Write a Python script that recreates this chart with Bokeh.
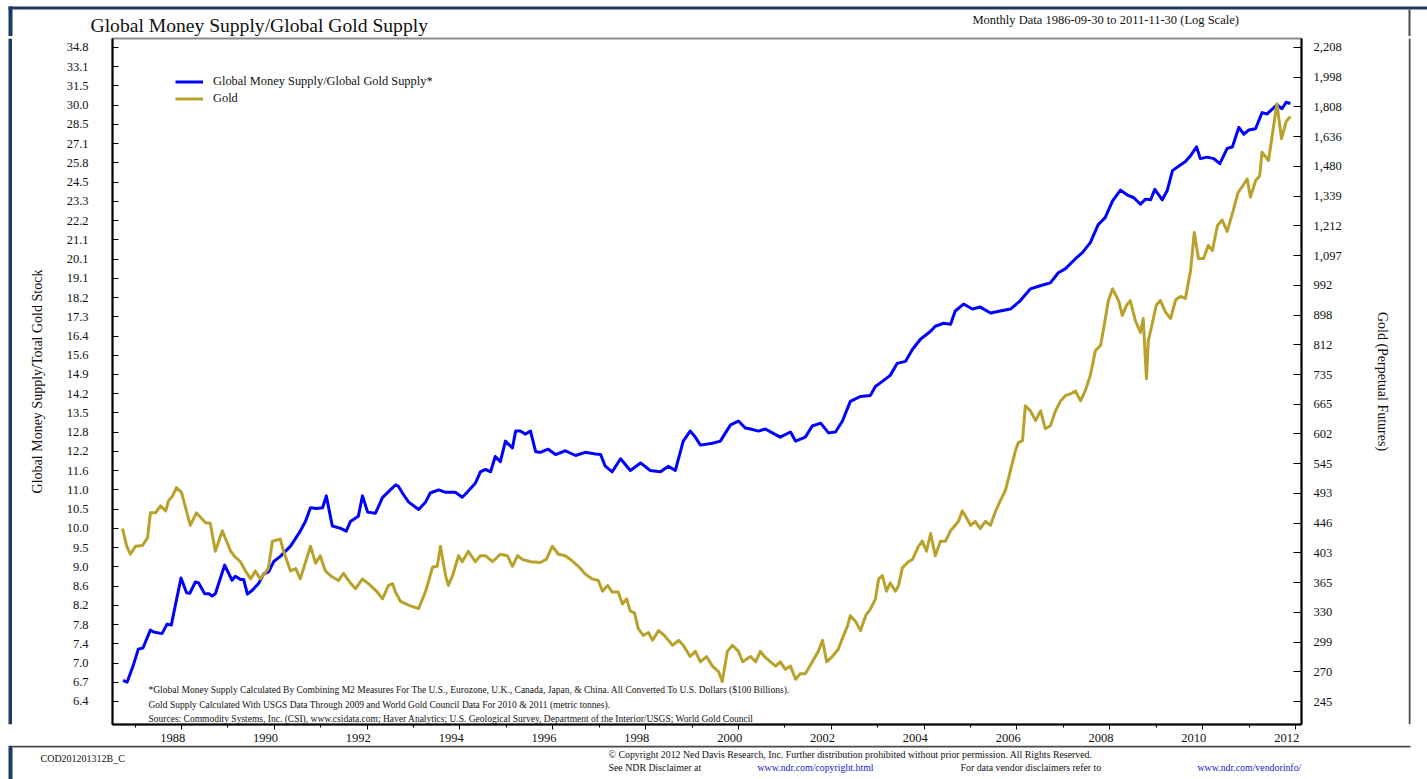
from bokeh.plotting import figure
from bokeh.layouts import column, row
from bokeh.models import (Range1d, LogScale, LogAxis, LinearAxis, FixedTicker,
                          CustomJSTickFormatter, Label, Legend, LegendItem)
from bokeh.embed import file_html
from bokeh.resources import INLINE

# ---------------- data ----------------
money_year = [1986.74, 1986.83, 1986.97, 1987.07, 1987.17, 1987.33, 1987.40, 1987.58, 1987.69, 1987.78,
              1987.99, 1988.11, 1988.18, 1988.30, 1988.37, 1988.50, 1988.59, 1988.66, 1988.73, 1988.93,
              1989.09, 1989.16, 1989.27, 1989.34, 1989.42, 1989.52, 1989.67, 1989.77, 1989.88, 1989.99,
              1990.13, 1990.35, 1990.56, 1990.67, 1990.78, 1990.91, 1991.04, 1991.12, 1991.25, 1991.43,
              1991.55, 1991.64, 1991.81, 1991.90, 1992.01, 1992.18, 1992.33, 1992.50, 1992.61, 1992.67,
              1992.76, 1992.89, 1993.11, 1993.26, 1993.36, 1993.54, 1993.69, 1993.90, 1994.05, 1994.18,
              1994.33, 1994.44, 1994.55, 1994.66, 1994.76, 1994.87, 1994.98, 1995.13, 1995.20, 1995.30,
              1995.41, 1995.52, 1995.63, 1995.73, 1995.90, 1996.06, 1996.27, 1996.49, 1996.70, 1996.92,
              1997.03, 1997.13, 1997.28, 1997.46, 1997.67, 1997.89, 1998.10, 1998.32, 1998.49, 1998.64,
              1998.81, 1998.96, 1999.07, 1999.18, 1999.44, 1999.61, 1999.72, 1999.83, 2000.00, 2000.15,
              2000.26, 2000.43, 2000.58, 2000.73, 2000.90, 2001.12, 2001.23, 2001.44, 2001.59, 2001.77,
              2001.94, 2002.09, 2002.24, 2002.41, 2002.63, 2002.84, 2002.95, 2003.10, 2003.27, 2003.42,
              2003.60, 2003.75, 2003.92, 2004.14, 2004.24, 2004.42, 2004.57, 2004.67, 2004.85, 2005.04,
              2005.21, 2005.43, 2005.64, 2005.86, 2006.07, 2006.29, 2006.50, 2006.72, 2006.89, 2007.04,
              2007.26, 2007.41, 2007.58, 2007.75, 2007.90, 2008.06, 2008.23, 2008.38, 2008.51, 2008.66,
              2008.77, 2008.88, 2008.97, 2009.13, 2009.24, 2009.35, 2009.49, 2009.63, 2009.74, 2009.87,
              2009.95, 2010.10, 2010.24, 2010.37, 2010.53, 2010.64, 2010.78, 2010.89, 2010.99, 2011.14,
              2011.28, 2011.39, 2011.60, 2011.71, 2011.80, 2011.89]
money_ratio = [6.76, 6.73, 7.05, 7.33, 7.35, 7.70, 7.66, 7.63, 7.82, 7.80,
               8.81, 8.48, 8.47, 8.72, 8.70, 8.46, 8.46, 8.41, 8.46, 9.11,
               8.76, 8.85, 8.78, 8.78, 8.45, 8.53, 8.70, 8.90, 8.96, 9.20,
               9.32, 9.57, 9.95, 10.2, 10.57, 10.55, 10.57, 10.9, 10.08, 10.02,
               9.95, 10.2, 10.34, 10.9, 10.45, 10.42, 10.85, 11.07, 11.21, 11.18,
               10.98, 10.73, 10.52, 10.73, 10.98, 11.07, 11.0, 11.0, 10.86, 11.04,
               11.26, 11.6, 11.67, 11.6, 12.07, 11.91, 12.56, 12.34, 12.89, 12.89,
               12.79, 12.89, 12.22, 12.2, 12.3, 12.13, 12.25, 12.1, 12.2, 12.15,
               12.13, 11.77, 11.6, 12.0, 11.64, 11.87, 11.64, 11.6, 11.77, 11.64,
               12.56, 12.89, 12.69, 12.43, 12.49, 12.56, 12.83, 13.1, 13.23, 12.99,
               12.96, 12.89, 12.96, 12.83, 12.69, 12.86, 12.56, 12.69, 13.06, 13.16,
               12.83, 12.86, 13.23, 13.92, 14.1, 14.13, 14.47, 14.66, 14.89, 15.36,
               15.44, 15.93, 16.35, 16.69, 16.91, 17.04, 17.0, 17.59, 17.91, 17.68,
               17.77, 17.5, 17.59, 17.68, 18.06, 18.63, 18.78, 18.92, 19.42, 19.62,
               20.14, 20.46, 21.0, 22.0, 22.4, 23.4, 24.05, 23.75, 23.6, 23.2,
               23.5, 23.46, 24.1, 23.46, 24.05, 25.3, 25.6, 25.9, 26.3, 26.9,
               26.1, 26.2, 26.1, 25.76, 26.8, 26.9, 28.3, 27.8, 28.1, 28.2,
               29.4, 29.3, 30.0, 29.7, 30.2, 30.1]

gold_year = [1986.73, 1986.82, 1986.90, 1987.01, 1987.16, 1987.27, 1987.33, 1987.44, 1987.55, 1987.66,
             1987.72, 1987.81, 1987.89, 1988.00, 1988.19, 1988.32, 1988.52, 1988.62, 1988.73, 1988.88,
             1989.06, 1989.16, 1989.27, 1989.38, 1989.49, 1989.59, 1989.70, 1989.87, 1989.96, 1990.13,
             1990.20, 1990.35, 1990.46, 1990.56, 1990.78, 1990.89, 1990.99, 1991.10, 1991.21, 1991.38,
             1991.49, 1991.64, 1991.75, 1991.90, 1992.07, 1992.22, 1992.33, 1992.46, 1992.55, 1992.61,
             1992.72, 1992.93, 1993.11, 1993.26, 1993.41, 1993.51, 1993.58, 1993.69, 1993.75, 1993.84,
             1993.97, 1994.05, 1994.18, 1994.33, 1994.44, 1994.55, 1994.70, 1994.87, 1995.02, 1995.13,
             1995.24, 1995.35, 1995.52, 1995.73, 1995.86, 1995.99, 1996.12, 1996.27, 1996.38, 1996.55,
             1996.70, 1996.85, 1996.98, 1997.07, 1997.18, 1997.28, 1997.41, 1997.50, 1997.59, 1997.67,
             1997.76, 1997.84, 1997.95, 1998.06, 1998.15, 1998.28, 1998.40, 1998.58, 1998.71, 1998.81,
             1998.96, 1999.07, 1999.18, 1999.31, 1999.44, 1999.57, 1999.65, 1999.76, 1999.87, 2000.00,
             2000.09, 2000.26, 2000.37, 2000.47, 2000.56, 2000.69, 2000.80, 2000.90, 2001.01, 2001.12,
             2001.23, 2001.33, 2001.44, 2001.59, 2001.72, 2001.81, 2001.90, 2002.02, 2002.15, 2002.24,
             2002.35, 2002.41, 2002.52, 2002.63, 2002.74, 2002.84, 2002.95, 2003.02, 2003.10, 2003.19,
             2003.27, 2003.38, 2003.45, 2003.53, 2003.66, 2003.75, 2003.88, 2003.96, 2004.05, 2004.14,
             2004.24, 2004.35, 2004.46, 2004.57, 2004.74, 2004.82, 2004.89, 2005.00, 2005.10, 2005.21,
             2005.32, 2005.43, 2005.54, 2005.64, 2005.75, 2005.86, 2005.97, 2006.03, 2006.12, 2006.18,
             2006.29, 2006.40, 2006.51, 2006.61, 2006.72, 2006.83, 2006.94, 2007.04, 2007.15, 2007.26,
             2007.37, 2007.47, 2007.58, 2007.69, 2007.80, 2007.86, 2007.97, 2008.06, 2008.19, 2008.27,
             2008.36, 2008.44, 2008.55, 2008.66, 2008.72, 2008.79, 2008.83, 2008.92, 2009.00, 2009.09,
             2009.20, 2009.31, 2009.42, 2009.52, 2009.63, 2009.74, 2009.82, 2009.91, 2010.02, 2010.12,
             2010.21, 2010.32, 2010.42, 2010.53, 2010.66, 2010.76, 2010.96, 2011.03, 2011.14, 2011.23,
             2011.28, 2011.42, 2011.60, 2011.70, 2011.80, 2011.89]
gold_price = [438, 413, 402, 413, 414, 425, 462, 462, 473, 465,
              481, 489, 503, 495, 443, 462, 447, 446, 406, 435,
              406, 398, 392, 380, 370, 380, 370, 383, 420, 423,
              406, 380, 383, 370, 413, 390, 400, 380, 374, 368,
              377, 365, 358, 370, 362, 354, 346, 362, 364, 354,
              343, 338, 335, 355, 385, 386, 413, 374, 362, 374,
              400, 392, 406, 392, 400, 400, 392, 402, 400, 386,
              400, 395, 392, 391, 395, 413, 402, 400, 395, 386,
              376, 370, 368, 355, 362, 354, 354, 340, 346, 332,
              330, 313, 306, 309, 301, 311, 306, 296, 301, 296,
              285, 290, 280, 285, 276, 271, 262, 290, 296, 290,
              280, 285, 280, 290, 285, 280, 276, 280, 273, 276,
              264, 269, 269, 280, 290, 301, 280, 285, 292, 303,
              316, 327, 321, 311, 327, 334, 346, 370, 374, 355,
              365, 355, 362, 384, 392, 395, 413, 420, 406, 431,
              400, 420, 420, 435, 449, 465, 457, 443, 449, 438,
              449, 443, 465, 481, 498, 533, 570, 585, 589, 662,
              651, 630, 651, 613, 619, 651, 673, 685, 689, 696,
              673, 696, 733, 797, 811, 853, 943, 981, 943, 897,
              928, 943, 882, 847, 888, 725, 824, 876, 928, 943,
              907, 888, 946, 956, 950, 1043, 1186, 1086, 1086, 1135,
              1116, 1214, 1236, 1190, 1277, 1354, 1419, 1335, 1411, 1435,
              1553, 1510, 1828, 1625, 1722, 1751]

left_tick_labels = ["6.4", "6.7", "7.0", "7.4", "7.8", "8.2", "8.6", "9.0", "9.5", "10.0",
                    "10.5", "11.0", "11.6", "12.2", "12.8", "13.5", "14.2", "14.9", "15.6", "16.4",
                    "17.3", "18.2", "19.1", "20.1", "21.1", "22.2", "23.3", "24.5", "25.8", "27.1",
                    "28.5", "30.0", "31.5", "33.1", "34.8"]
right_tick_labels = ["245", "270", "299", "330", "365", "403", "446", "493", "545", "602",
                     "665", "735", "812", "898", "992", "1,097", "1,212", "1,339", "1,480", "1,636",
                     "1,808", "1,998", "2,208"]
year_ticks = [1988, 1990, 1992, 1994, 1996, 1998, 2000, 2002, 2004, 2006, 2008, 2010, 2012]
year_minor = [1987, 1989, 1991, 1993, 1995, 1997, 1999, 2001, 2003, 2005, 2007, 2009, 2011]
year_labels = ["1988", "1990", "1992", "1994", "1996", "1998", "2000", "2002", "2004", "2006",
               "2008", "2010", "2012"]

title_text = "Global Money Supply/Global Gold Supply"
subtitle_text = "Monthly Data 1986-09-30 to 2011-11-30 (Log Scale)"
series_names = ["Global Money Supply/Global Gold Supply*", "Gold"]
left_title = "Global Money Supply/Total Gold Stock"
right_title = "Gold (Perpetual Futures)"
notes = ["*Global Money Supply Calculated By Combining M2 Measures For The U.S., Eurozone, U.K., Canada, Japan, & China. All Converted To U.S. Dollars ($100 Billions).",
         "Gold Supply Calculated With USGS Data Through 2009 and World Gold Council Data For 2010 & 2011 (metric tonnes).",
         "Sources: Commodity Systems, Inc. (CSI), www.csidata.com; Haver Analytics; U.S. Geological Survey, Department of the Interior/USGS; World Gold Council"]
footer_code = "COD201201312B_C"
footer_copy = "\u00a9 Copyright 2012 Ned Davis Research, Inc. Further distribution prohibited without prior permission. All Rights Reserved."
footer_items = ["See NDR Disclaimer at", "www.ndr.com/copyright.html",
                "For data vendor disclaimers refer to", "www.ndr.com/vendorinfo/"]

# ---------------- styling / layout constants ----------------
SERIF = "Liberation Serif"
BLUE = "#0000FF"
GOLD = "#B9A22C"
NAVY = "#1F3A60"
FRAME_GREY = "#4a4a4a"
TXT = "#111111"
LINK = "#2020D0"

PAGE_W, PAGE_H = 1427, 779
TOP_H = 36                 # top strip (title) height
MAIN_H = 709               # main chart figure height
BOT_H = PAGE_H - TOP_H - MAIN_H
STRIP_W = 12               # left navy strip figure
RIGHT_W = 19               # right frame-line figure
MAIN_W = PAGE_W - STRIP_W - RIGHT_W
BL, BR, BT, BB = 100, 107, 2, 21
FX0 = STRIP_W + BL         # page x of frame left (112)
FY0 = TOP_H + MAIN_H - BB  # page y of frame bottom (724)


def geo_ticks(labels):
    lo = float(labels[0].replace(",", ""))
    hi = float(labels[-1].replace(",", ""))
    n = len(labels)
    return [lo * (hi / lo) ** (k / (n - 1)) for k in range(n)]


left_ticks = geo_ticks(left_tick_labels)
right_ticks = geo_ticks(right_tick_labels)


def lookup_formatter(vals, labels):
    return CustomJSTickFormatter(args=dict(vals=vals, labels=labels), code="""
        let best = 0, bd = 1e9;
        for (let i = 0; i < vals.length; i++) {
            const d = Math.abs(Math.log(vals[i] / tick));
            if (d < bd) { bd = d; best = i; }
        }
        return labels[best];
    """)


def deco_fig(w, h, xr, yr):
    f = figure(width=w, height=h, x_range=Range1d(*xr), y_range=Range1d(*yr), title=None,
               output_backend="svg", toolbar_location=None, x_axis_location=None,
               y_axis_location=None, min_border=0)
    f.min_border_left = f.min_border_right = f.min_border_top = f.min_border_bottom = 0
    f.outline_line_color = None
    f.background_fill_color = "white"
    f.border_fill_color = "white"
    f.xgrid.grid_line_color = None
    f.ygrid.grid_line_color = None
    f.grid.visible = False
    return f


def rect(f, l, r, t, b, color):
    f.quad(left=[l], right=[r], top=[t], bottom=[b], fill_color=color, line_color=None)


def dtext(f, s, x, y, size, color=TXT):
    f.add_layout(Label(x=x, y=y, text=s, text_font=SERIF, text_font_size=size,
                       text_color=color, text_baseline="middle", text_align="left"))


# ---------------- main chart ----------------
p = figure(width=MAIN_W, height=MAIN_H, title=None, output_backend="svg", toolbar_location=None,
           x_range=Range1d(1986.514, 2012.13), y_range=Range1d(6.03, 35.62),
           y_axis_type="log", min_border_left=BL, min_border_right=BR,
           min_border_top=BT, min_border_bottom=BB)
p.background_fill_color = "white"
p.border_fill_color = "white"
p.grid.visible = False
p.outline_line_color = "#8c8c8c"
p.outline_line_width = 2

p.extra_y_ranges = {"gold": Range1d(226.8, 2275.8)}
p.extra_y_scales = {"gold": LogScale()}
p.extra_x_ranges = {"lbl": Range1d(1986.514 + 0.19, 2012.13 + 0.19)}

ya = p.yaxis[0]
ya.ticker = FixedTicker(ticks=left_ticks, minor_ticks=[])
ya.formatter = lookup_formatter(left_ticks, left_tick_labels)
ya.major_tick_in = 6
ya.major_tick_out = 0
ya.minor_tick_in = 0
ya.minor_tick_out = 0
ya.axis_line_width = 2
ya.major_label_standoff = 24
ya.major_label_text_font = SERIF
ya.major_label_text_font_size = "12.5px"
ya.major_label_text_color = TXT
ya.axis_label = left_title
ya.axis_label_standoff = 19
ya.axis_label_text_font = SERIF
ya.axis_label_text_font_size = "14px"
ya.axis_label_text_font_style = "normal"
ya.axis_label_text_color = TXT

ra = LogAxis(y_range_name="gold")
ra.ticker = FixedTicker(ticks=right_ticks, minor_ticks=[])
ra.formatter = lookup_formatter(right_ticks, right_tick_labels)
ra.major_tick_in = 8
ra.major_tick_out = 0
ra.minor_tick_in = 0
ra.minor_tick_out = 0
ra.axis_line_width = 2
ra.major_label_standoff = 12
ra.major_label_text_font = SERIF
ra.major_label_text_font_size = "12.5px"
ra.major_label_text_color = TXT
ra.axis_label = right_title
ra.axis_label_standoff = 30
ra.axis_label_text_font = SERIF
ra.axis_label_text_font_size = "14px"
ra.axis_label_text_font_style = "normal"
ra.axis_label_text_color = TXT
p.add_layout(ra, "right")

xa = p.xaxis[0]
xa.ticker = FixedTicker(ticks=year_ticks, minor_ticks=year_minor)
xa.formatter = CustomJSTickFormatter(code="return '';")
xa.major_tick_in = 0
xa.major_tick_out = 5
xa.minor_tick_in = 0
xa.minor_tick_out = 3
xa.axis_line_width = 2
xa.major_label_standoff = 0
xa.major_label_text_font_size = "0px"

la = LinearAxis(x_range_name="lbl")
la.ticker = FixedTicker(ticks=year_ticks, minor_ticks=[])
la.formatter = lookup_formatter(year_ticks, year_labels)
la.axis_line_color = None
la.major_tick_line_color = None
la.minor_tick_line_color = None
la.major_tick_in = 0
la.major_tick_out = 0
la.major_label_standoff = 4
la.major_label_text_font = SERIF
la.major_label_text_font_size = "12.5px"
la.major_label_text_color = TXT
p.add_layout(la, "below")

r_money = p.line(money_year, money_ratio, line_color=BLUE, line_width=3, line_join="round")
r_gold = p.line(gold_year, gold_price, y_range_name="gold", line_color=GOLD, line_width=3,
                line_join="round")

legend = Legend(items=[LegendItem(label=series_names[0], renderers=[r_money]),
                       LegendItem(label=series_names[1], renderers=[r_gold])],
                location=(63, 617.5))
legend.background_fill_alpha = 0
legend.border_line_alpha = 0
legend.glyph_width = 28
legend.glyph_height = 17
legend.label_height = 17
legend.label_standoff = 10
legend.spacing = 0
legend.padding = 0
legend.margin = 0
legend.label_text_font = SERIF
legend.label_text_font_size = "12.4px"
legend.label_text_color = TXT
p.add_layout(legend)

for s, py in zip(notes, [689.5, 704.5, 718]):
    p.add_layout(Label(x=148 - FX0, y=FY0 - py, x_units="screen", y_units="screen", text=s,
                       text_font=SERIF, text_font_size="9.5px", text_color=TXT,
                       text_baseline="middle", text_align="left"))

# ---------------- decorations: top strip with title ----------------
top = deco_fig(PAGE_W, TOP_H, (0, PAGE_W), (TOP_H, 0))
rect(top, 8, PAGE_W, 6, 9, NAVY)                    # navy top rule
rect(top, 8, 12, 6, TOP_H, NAVY)                    # left navy rule
rect(top, 1408, 1410, 9, TOP_H, FRAME_GREY)         # right frame line
dtext(top, title_text, 90, 25, "19.6px")
dtext(top, subtitle_text, 972, 19, "12.5px")

# left strip / right strip next to the main chart
y_a, y_b = TOP_H, TOP_H + MAIN_H
left = deco_fig(STRIP_W, MAIN_H, (0, STRIP_W), (y_b, y_a))
rect(left, 8, 12, y_a, y_b, NAVY)
right = deco_fig(RIGHT_W, MAIN_H, (PAGE_W - RIGHT_W, PAGE_W), (y_b, y_a))
rect(right, 1408, 1410, y_a, y_b, FRAME_GREY)

# bottom strip with footer
y0 = TOP_H + MAIN_H
bot = deco_fig(PAGE_W, BOT_H, (0, PAGE_W), (PAGE_H, y0))
rect(bot, 12, 1410, y0, y0 + 2, FRAME_GREY)
rect(bot, 8, 12, y0, PAGE_H, NAVY)
dtext(bot, footer_code, 40, 758, "10px")
dtext(bot, footer_copy, 608, 754, "9.85px")
dtext(bot, footer_items[0], 608, 767, "9.85px")
dtext(bot, footer_items[1], 757, 767, "9.85px", color=LINK)
dtext(bot, footer_items[2], 960, 767, "9.85px")
dtext(bot, footer_items[3], 1197, 767, "9.85px", color=LINK)

page = column(top, row(left, p, right), bot)
open("out.html", "w").write(file_html(page, INLINE))
